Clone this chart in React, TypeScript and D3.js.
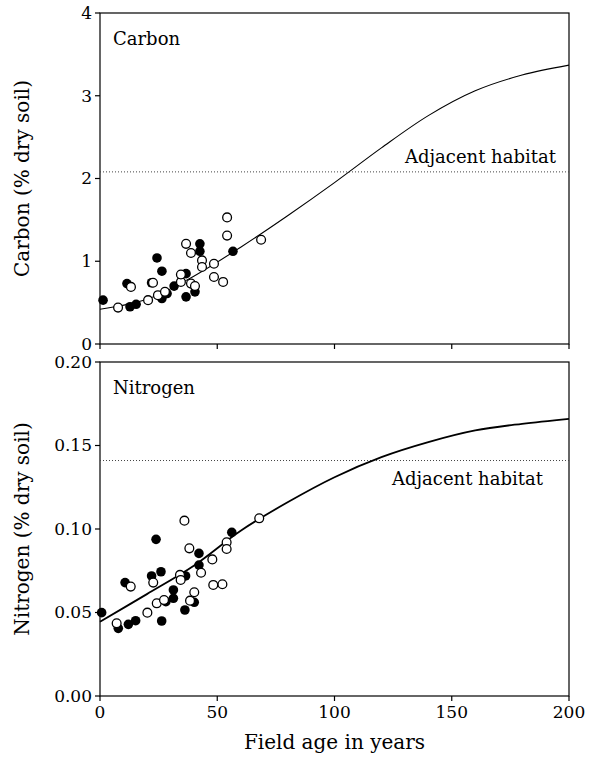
import React from 'react'
import * as d3 from 'd3'

// ---- data ----
// carbon (% dry soil) vs field age, filled and open symbols
const carbonFilled: [number, number][] = [
  [1.3, 0.53], [11.5, 0.73], [12.8, 0.45], [15.4, 0.48], [22, 0.74], [24.3, 1.04],
  [26.4, 0.88], [26.4, 0.55], [28.6, 0.61], [31.6, 0.7], [36.7, 0.85], [36.7, 0.57],
  [40.5, 0.63], [42.6, 1.21], [42.6, 1.12], [56.7, 1.12],
]
const carbonOpen: [number, number][] = [
  [7.7, 0.44], [13.2, 0.69], [20.5, 0.53], [22.6, 0.74], [24.7, 0.59], [27.7, 0.63],
  [34.5, 0.75], [34.5, 0.84], [38.8, 0.73], [40.5, 0.7], [36.7, 1.21], [38.8, 1.1],
  [43.5, 1.01], [43.5, 0.93], [48.6, 0.97], [48.6, 0.81], [52.5, 0.75], [54.2, 1.53],
  [54.2, 1.31], [68.7, 1.26],
]
// fitted curve, read at 20-year steps
const carbonCurve: [number, number][] = [
  [0, 0.42], [20, 0.54], [40, 0.82], [60, 1.17], [80, 1.55], [100, 1.95],
  [120, 2.37], [140, 2.76], [160, 3.06], [180, 3.25], [200, 3.37],
]
const carbonAdjacent = 2.08

const nitrogenFilled: [number, number][] = [
  [0.7, 0.0499], [10.7, 0.0679], [7.8, 0.0405], [12.1, 0.0429], [15.2, 0.0451],
  [23.9, 0.0938], [22, 0.0719], [26, 0.0744], [31.3, 0.0635], [31.3, 0.0585],
  [28.1, 0.0565], [26.3, 0.0449], [36.2, 0.0515], [36.5, 0.0719], [40.2, 0.0561],
  [42.2, 0.0854], [42.2, 0.0784], [56.2, 0.098],
]
const nitrogenOpen: [number, number][] = [
  [7.1, 0.0435], [13.1, 0.0655], [20.2, 0.0499], [22.7, 0.0679], [24.2, 0.0555],
  [27.3, 0.0575], [34.1, 0.0725], [34.4, 0.0695], [36, 0.105], [38.1, 0.0884],
  [43.1, 0.0738], [40.2, 0.0621], [38.4, 0.0571], [47.9, 0.0818], [54, 0.092],
  [54, 0.088], [48.3, 0.0665], [52.2, 0.0669], [67.9, 0.1064],
]
const nitrogenCurve: [number, number][] = [
  [0, 0.0445], [20, 0.061], [40, 0.078], [60, 0.099], [80, 0.116], [100, 0.131],
  [120, 0.143], [140, 0.152], [160, 0.159], [180, 0.163], [200, 0.166],
]
const nitrogenAdjacent = 0.141

const xTicks = [0, 50, 100, 150, 200]
const carbonTicks = [0, 1, 2, 3, 4]
const nitrogenTicks = [0, 0.05, 0.1, 0.15, 0.2]

const FONT = '"DejaVu Serif", "Liberation Serif", serif'

type PanelProps = {
  top: number
  bottom: number
  yMax: number
  yTicks: number[]
  fmt: (v: number) => string
  filled: [number, number][]
  open: [number, number][]
  curve: [number, number][]
  adjacent: number
  name: string
  yTitle: string
  adjLabelX: number
  adjLabelY: number
  curveWidth: number
  showXLabels: boolean
}

const left = 100
const right = 569

function Panel(p: PanelProps) {
  const x = d3.scaleLinear().domain([0, 200]).range([left, right])
  const y = d3.scaleLinear().domain([0, p.yMax]).range([p.bottom, p.top])
  const line = d3.line<[number, number]>()
    .x(d => x(d[0]))
    .y(d => y(d[1]))
    .curve(d3.curveCatmullRom)

  return (
    <g>
      {/* frame */}
      <rect x={left} y={p.top} width={right - left} height={p.bottom - p.top}
        fill="none" stroke="#000" strokeWidth={1.2} />

      {/* y axis */}
      {p.yTicks.map(t => (
        <g key={t}>
          <line x1={left - 5} x2={left} y1={y(t)} y2={y(t)} stroke="#000" strokeWidth={1.2} />
          <text x={left - 8} y={y(t)} dy="0.35em" textAnchor="end" fontSize={17}>{p.fmt(t)}</text>
        </g>
      ))}

      {/* x axis */}
      {xTicks.map(t => (
        <g key={t}>
          <line x1={x(t)} x2={x(t)} y1={p.bottom} y2={p.bottom + 5} stroke="#000" strokeWidth={1.2} />
          {p.showXLabels && (
            <text x={x(t)} y={p.bottom + 22} textAnchor="middle" fontSize={17}>{t}</text>
          )}
        </g>
      ))}

      <text transform={`translate(29,${(p.top + p.bottom) / 2}) rotate(-90)`}
        textAnchor="middle" fontSize={20}>{p.yTitle}</text>

      {/* adjacent habitat */}
      <line x1={left} x2={right} y1={y(p.adjacent)} y2={y(p.adjacent)}
        stroke="#444" strokeWidth={1} strokeDasharray="1,2" />
      <text x={p.adjLabelX} y={p.adjLabelY} fontSize={18}>Adjacent habitat</text>

      <text x={113} y={p.top + 32} fontSize={18}>{p.name}</text>

      <path d={line(p.curve) || ''} fill="none" stroke="#000" strokeWidth={p.curveWidth} />

      {p.filled.map((d, i) => (
        <circle key={'f' + i} cx={x(d[0])} cy={y(d[1])} r={4.8} fill="#000" />
      ))}
      {p.open.map((d, i) => (
        <circle key={'o' + i} cx={x(d[0])} cy={y(d[1])} r={4.4} fill="#fff" stroke="#000" strokeWidth={1.3} />
      ))}
    </g>
  )
}

export default function App() {
  return (
    <svg width={592} height={759} style={{ position: 'absolute', left: 0, top: 0 }} fontFamily={FONT}>
      <rect width={592} height={759} fill="#fff" />
      <Panel top={13} bottom={344} yMax={4} yTicks={carbonTicks} fmt={d3.format('d')}
        filled={carbonFilled} open={carbonOpen} curve={carbonCurve} adjacent={carbonAdjacent}
        name="Carbon" yTitle="Carbon (% dry soil)" adjLabelX={405} adjLabelY={163}
        curveWidth={1.1} showXLabels={false} />
      <Panel top={362} bottom={696} yMax={0.2} yTicks={nitrogenTicks} fmt={d3.format('.2f')}
        filled={nitrogenFilled} open={nitrogenOpen} curve={nitrogenCurve} adjacent={nitrogenAdjacent}
        name="Nitrogen" yTitle="Nitrogen (% dry soil)" adjLabelX={392} adjLabelY={485}
        curveWidth={1.8} showXLabels={true} />
      <text x={(left + right) / 2} y={749} textAnchor="middle" fontSize={20}>Field age in years</text>
    </svg>
  )
}
